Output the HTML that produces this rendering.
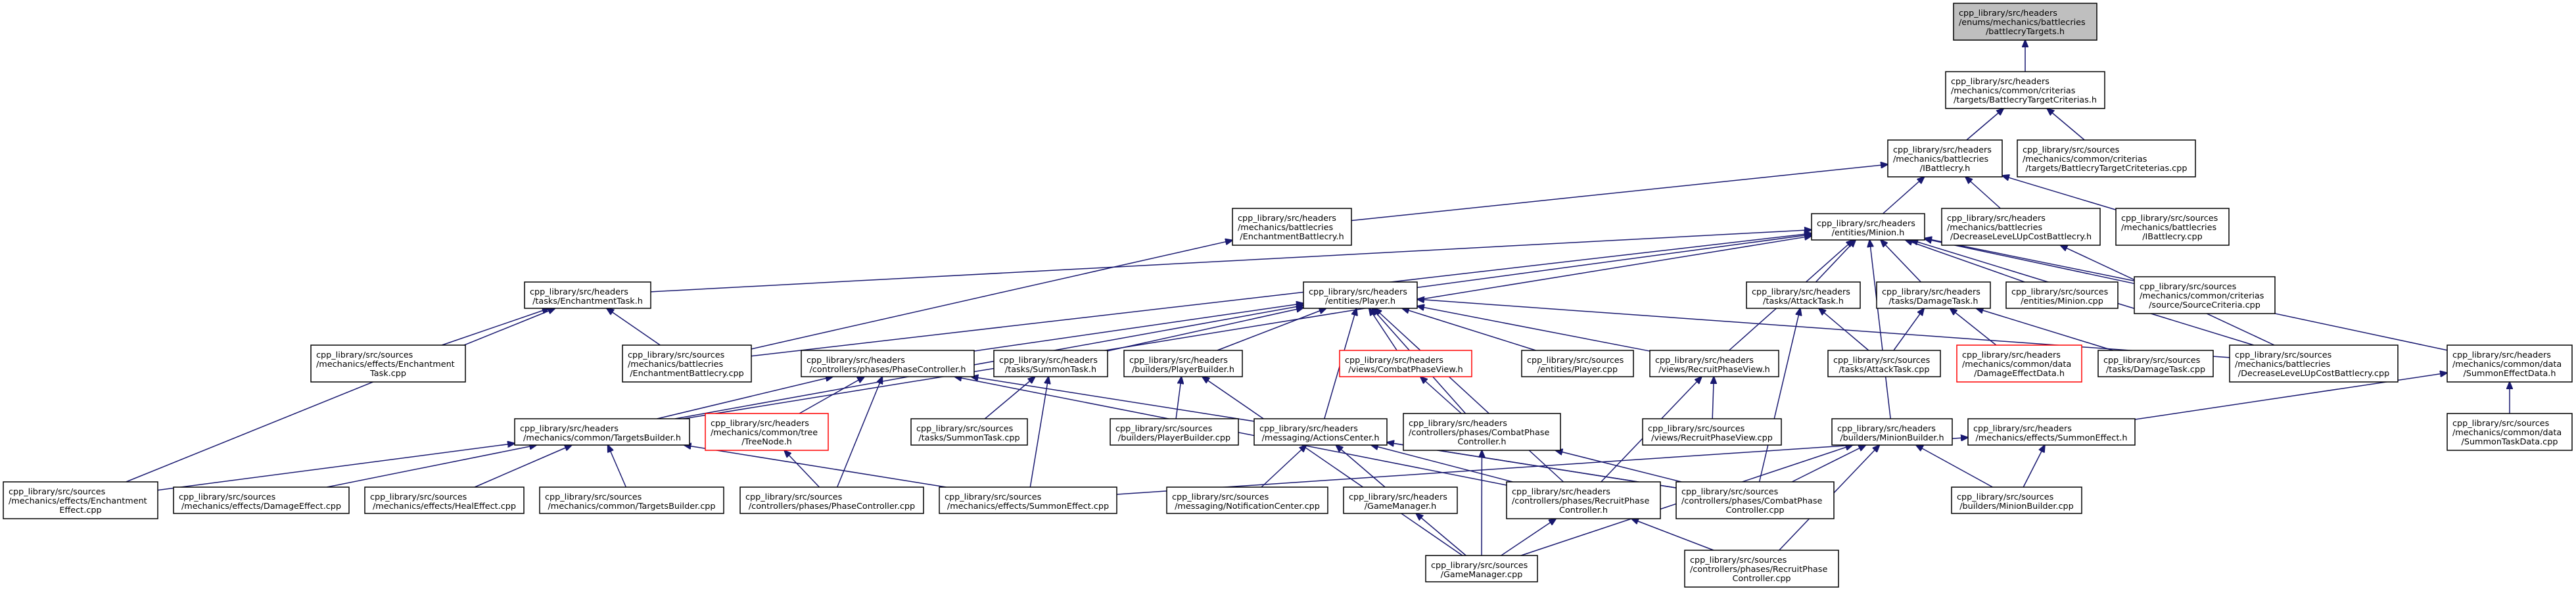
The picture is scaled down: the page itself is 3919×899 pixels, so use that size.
<!DOCTYPE html>
<html><head><meta charset="utf-8">
<style>
html,body{margin:0;padding:0;background:#fff;width:3919px;height:899px;overflow:hidden}
svg{display:block}
text{font-family:"DejaVu Sans","Liberation Sans",sans-serif;font-size:12.8px;fill:#000}
</style></head><body>
<svg id="g" width="3919" height="899" viewBox="0 0 3919 899" xmlns="http://www.w3.org/2000/svg">
<defs><marker id="ah" markerWidth="12" markerHeight="10" refX="11" refY="5" orient="auto" markerUnits="userSpaceOnUse"><path d="M0,0 L12,5 L0,10 z" fill="#191970" stroke="#191970"/></marker></defs>
<g id="edges"></g><g id="nodes"></g>
</svg>
<script>
var RC=[33,137,241,345,449,553,657,761,865];
var N={
A:[2972,3190,0,["cpp_library/src/headers","/enums/mechanics/battlecries","/battlecryTargets.h"],"g"],
B:[2960,3202,1,["cpp_library/src/headers","/mechanics/common/criterias","/targets/BattlecryTargetCriterias.h"]],
C:[2872,3046,2,["cpp_library/src/headers","/mechanics/battlecries","/IBattlecry.h"]],
D:[3069,3340,2,["cpp_library/src/sources","/mechanics/common/criterias","/targets/BattlecryTargetCriteterias.cpp"]],
E:[1875,2056,3,["cpp_library/src/headers","/mechanics/battlecries","/EnchantmentBattlecry.h"]],
F:[2756,2928,3,["cpp_library/src/headers","/entities/Minion.h"]],
G:[2954,3195,3,["cpp_library/src/headers","/mechanics/battlecries","/DecreaseLeveLUpCostBattlecry.h"]],
H:[3219,3391,3,["cpp_library/src/sources","/mechanics/battlecries","/IBattlecry.cpp"]],
I:[798,990,4,["cpp_library/src/headers","/tasks/EnchantmentTask.h"]],
J:[1983,2156,4,["cpp_library/src/headers","/entities/Player.h"]],
K:[2657,2830,4,["cpp_library/src/headers","/tasks/AttackTask.h"]],
L:[2855,3028,4,["cpp_library/src/headers","/tasks/DamageTask.h"]],
M:[3052,3222,4,["cpp_library/src/sources","/entities/Minion.cpp"]],
Nn:[3247,3461,4,["cpp_library/src/sources","/mechanics/common/criterias","/source/SourceCriteria.cpp"]],
O:[473,708,5,["cpp_library/src/sources","/mechanics/effects/Enchantment","Task.cpp"]],
P:[947,1143,5,["cpp_library/src/sources","/mechanics/battlecries","/EnchantmentBattlecry.cpp"]],
Q:[1219,1482,5,["cpp_library/src/headers","/controllers/phases/PhaseController.h"]],
R:[1512,1685,5,["cpp_library/src/headers","/tasks/SummonTask.h"]],
S:[1710,1890,5,["cpp_library/src/headers","/builders/PlayerBuilder.h"]],
T:[2038,2239,5,["cpp_library/src/headers","/views/CombatPhaseView.h"],"r"],
U:[2315,2485,5,["cpp_library/src/sources","/entities/Player.cpp"]],
V:[2510,2706,5,["cpp_library/src/headers","/views/RecruitPhaseView.h"]],
W:[2781,2952,5,["cpp_library/src/sources","/tasks/AttackTask.cpp"]],
X:[2977,3167,5,["cpp_library/src/headers","/mechanics/common/data","/DamageEffectData.h"],"r"],
Y:[3192,3367,5,["cpp_library/src/sources","/tasks/DamageTask.cpp"]],
Z:[3392,3648,5,["cpp_library/src/sources","/mechanics/battlecries","/DecreaseLeveLUpCostBattlecry.cpp"]],
AA:[3723,3913,5,["cpp_library/src/headers","/mechanics/common/data","/SummonEffectData.h"]],
AB:[783,1049,6,["cpp_library/src/headers","/mechanics/common/TargetsBuilder.h"]],
AC:[1073,1260,6,["cpp_library/src/headers","/mechanics/common/tree","/TreeNode.h"],"r"],
AD:[1386,1563,6,["cpp_library/src/sources","/tasks/SummonTask.cpp"]],
AE:[1689,1884,6,["cpp_library/src/sources","/builders/PlayerBuilder.cpp"]],
AF:[1908,2110,6,["cpp_library/src/headers","/messaging/ActionsCenter.h"]],
AG:[2135,2374,6,["cpp_library/src/headers","/controllers/phases/CombatPhase","Controller.h"]],
AH:[2499,2710,6,["cpp_library/src/sources","/views/RecruitPhaseView.cpp"]],
AI:[2787,2970,6,["cpp_library/src/headers","/builders/MinionBuilder.h"]],
AJ:[2994,3248,6,["cpp_library/src/headers","/mechanics/effects/SummonEffect.h"]],
AK:[3723,3913,6,["cpp_library/src/sources","/mechanics/common/data","/SummonTaskData.cpp"]],
AL:[5,240,7,["cpp_library/src/sources","/mechanics/effects/Enchantment","Effect.cpp"]],
AM:[264,531,7,["cpp_library/src/sources","/mechanics/effects/DamageEffect.cpp"]],
AN:[555,797,7,["cpp_library/src/sources","/mechanics/effects/HealEffect.cpp"]],
AO:[821,1101,7,["cpp_library/src/sources","/mechanics/common/TargetsBuilder.cpp"]],
AP:[1126,1405,7,["cpp_library/src/sources","/controllers/phases/PhaseController.cpp"]],
AQ:[1429,1699,7,["cpp_library/src/sources","/mechanics/effects/SummonEffect.cpp"]],
AR:[1775,2020,7,["cpp_library/src/sources","/messaging/NotificationCenter.cpp"]],
AS:[2044,2217,7,["cpp_library/src/headers","/GameManager.h"]],
AT:[2292,2526,7,["cpp_library/src/headers","/controllers/phases/RecruitPhase","Controller.h"]],
AU:[2550,2790,7,["cpp_library/src/sources","/controllers/phases/CombatPhase","Controller.cpp"]],
AV:[2969,3167,7,["cpp_library/src/sources","/builders/MinionBuilder.cpp"]],
AW:[2169,2339,8,["cpp_library/src/sources","/GameManager.cpp"]],
AX:[2563,2797,8,["cpp_library/src/sources","/controllers/phases/RecruitPhase","Controller.cpp"]]
};
var E=[["A","B"],["B","C"],["B","D"],["C","E"],["C","F"],["C","G"],["C","H"],["E","P"],
["F","I"],["F","J"],["F","P"],["F","AB"],["F","K"],["F","L"],["F","M"],["F","Nn"],["F","V"],["F","Z"],["F","AA"],["F","AI"],
["G","Z"],["I","O"],["I","P"],["I","AL"],
["J","AB"],["J","Q"],["J","R"],["J","S"],["J","T"],["J","U"],["J","V"],["J","Z"],["J","AF"],["J","AG"],["J","AT"],
["K","W"],["K","AU"],["L","W"],["L","X"],["L","Y"],
["Q","AB"],["Q","AC"],["Q","AP"],["Q","AT"],["Q","AU"],["AC","AP"],
["AB","AL"],["AB","AM"],["AB","AN"],["AB","AO"],["AB","AQ"],
["R","AD"],["R","AQ"],["S","AE"],["S","AW"],["T","AG"],["V","AH"],["V","AT"],
["AF","AR"],["AF","AS"],["AF","AT"],["AF","AU"],["AG","AW"],["AG","AU"],["AS","AW"],["AT","AW"],["AT","AX"],
["AI","AU"],["AI","AW"],["AI","AX"],["AI","AV"],["AJ","AV"],["AJ","AQ"],["AA","AK"],["AA","AJ"]];
function rect(k){var n=N[k],h=n[3].length==3?56:40,c=RC[n[2]];return {x1:n[0],x2:n[1],y1:c-h/2,y2:c+h/2,cx:(n[0]+n[1])/2,cy:c};}
function clip(r,px,py,qx,qy){ // from inside point p toward q, find exit of rect
 var dx=qx-px,dy=qy-py,t=1;
 if(dx>0)t=Math.min(t,(r.x2-px)/dx); if(dx<0)t=Math.min(t,(r.x1-px)/dx);
 if(dy>0)t=Math.min(t,(r.y2-py)/dy); if(dy<0)t=Math.min(t,(r.y1-py)/dy);
 return [px+dx*t,py+dy*t];}
var ns="http://www.w3.org/2000/svg",eg=document.getElementById("edges"),ng=document.getElementById("nodes");
E.forEach(function(e){var p=rect(e[0]),c=rect(e[1]);
 var a=clip(c,c.cx,c.cy,p.cx,p.cy),b=clip(p,p.cx,p.cy,c.cx,c.cy);
 var l=document.createElementNS(ns,"line");
 l.setAttribute("x1",a[0]);l.setAttribute("y1",a[1]);l.setAttribute("x2",b[0]);l.setAttribute("y2",b[1]);
 l.setAttribute("stroke","#191970");l.setAttribute("stroke-width","1.5");l.setAttribute("marker-end","url(#ah)");
 eg.appendChild(l);});
for(var k in N){var n=N[k],r=rect(k);
 var re=document.createElementNS(ns,"rect");
 re.setAttribute("x",r.x1);re.setAttribute("y",r.y1);re.setAttribute("width",r.x2-r.x1);re.setAttribute("height",r.y2-r.y1);
 re.setAttribute("fill",n[4]=="g"?"#bfbfbf":"#fff");re.setAttribute("stroke",n[4]=="r"?"#ff0000":"#000");re.setAttribute("stroke-width","1.5");
 ng.appendChild(re);
 var L=n[3];for(var i=0;i<L.length;i++){var t=document.createElementNS(ns,"text");
  var last=(i==L.length-1);
  t.setAttribute("x",last?r.cx:r.x1+8);t.setAttribute("text-anchor",last?"middle":"start");
  t.setAttribute("y",r.y1+19+i*14);t.textContent=L[i];ng.appendChild(t);}
}
</script>
</body></html>
